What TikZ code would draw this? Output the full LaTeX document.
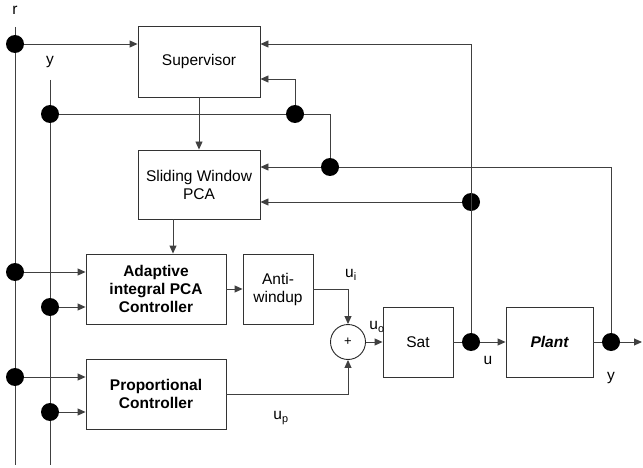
\documentclass[tikz,border=0pt]{standalone}
\usepackage{fontspec}
\setmainfont{Liberation Sans}
\usetikzlibrary{arrows.meta}

\begin{document}
\begin{tikzpicture}[x=1pt,y=-1pt,
  line width=0.9pt,
  wire/.style={draw=black!75},
  arr/.style={wire,-{Triangle[length=8pt,width=7pt]}},
  block/.style={draw=black!80,rectangle,inner sep=0pt,align=center,
    font=\fontsize{15.5}{18}\selectfont},
  dot/.style={circle,fill=black,inner sep=0pt,minimum size=18pt},
  lbl/.style={inner sep=0pt,font=\fontsize{15.5}{18}\selectfont},
  sumnode/.style={circle,draw=black!85,inner sep=0pt,minimum size=35pt,
    font=\fontsize{13}{15}\selectfont}]
\useasboundingbox (0,0) rectangle (643,468);

% signal rails r and y
\coordinate (rtop) at (15,27);
\coordinate (rbot) at (15,465);
\coordinate (ytop) at (50,80);
\coordinate (ybot) at (50,465);
\draw[wire] (rtop) -- (rbot);
\draw[wire] (ytop) -- (ybot);
\node[lbl] (rlabel) at (15,10) {r};
\node[lbl] (ylabel) at (50,62) {y};

% blocks
\node[block,minimum width=122pt,minimum height=71pt] (sup) at (199,61.5) {Supervisor};
\node[block,minimum width=122pt,minimum height=69pt] (swp) at (199,184.5) {Sliding Window\\PCA};
\node[block,minimum width=140pt,minimum height=70pt] (apc) at (156,289) {\bfseries Adaptive\\\bfseries integral PCA\\\bfseries Controller};
\node[block,minimum width=70pt,minimum height=70pt] (aw) at (278,289) {Anti-\\windup};
\node[block,minimum width=140pt,minimum height=70pt] (pc) at (156,394) {\bfseries Proportional\\\bfseries Controller};
\node[sumnode] (sum) at (348,342) {+};
\node[block,minimum width=70pt,minimum height=70pt] (sat) at (418,342) {Sat};
\node[block,minimum width=87pt,minimum height=70pt] (plant) at (549.5,342) {\bfseries\itshape Plant};

% branch points
\node[dot] (r1) at (15,44) {};
\node[dot] (r2) at (15,272) {};
\node[dot] (r3) at (15,377) {};
\node[dot] (y1) at (50,114) {};
\node[dot] (y2) at (50,307) {};
\node[dot] (y3) at (50,412) {};
\node[dot] (fb1) at (295,114) {};
\node[dot] (fb2) at (330,167) {};
\node[dot] (fb3) at (471,202) {};
\node[dot] (udot) at (471,342) {};
\node[dot] (ydot) at (611,342) {};
\coordinate (yout) at (642,342);

% reference and measurement inputs
\draw[arr] (r1) -- (r1 -| sup.west);
\draw[arr] (r2) -- (r2 -| apc.west);
\draw[arr] (y2) -- (y2 -| apc.west);
\draw[arr] (r3) -- (r3 -| pc.west);
\draw[arr] (y3) -- (y3 -| pc.west);

% supervisor and PCA chain
\draw[arr] (sup) -- (swp);
\coordinate (swpout) at ([xshift=-26pt]swp.south);
\draw[arr] (swpout) -- (swpout |- apc.north);
\draw[arr] (apc) -- (aw);

% feedback of y
\draw[wire] (y1) -- (fb1);
\draw[arr] (fb1) |- ([yshift=-17.5pt]sup.east);
\draw[wire] (fb2) |- (fb1);
\draw[arr] (fb2) -- ([yshift=17.5pt]swp.east);
\draw[wire] (ydot) |- (fb2);

% feedback of u
\draw[arr] (udot) |- ([yshift=17.5pt]sup.east);
\draw[arr] (fb3) -- ([yshift=-17.5pt]swp.east);

% control summation
\draw[arr] (aw.east) -| (sum.north);
\draw[arr] (pc.east) -| (sum.south);
\draw[arr] (sum) -- (sat);
\draw[wire] (sat) -- (udot);
\draw[arr] (udot) -- (plant);
\draw[wire] (plant) -- (ydot);
\draw[arr] (ydot) -- (yout);

% signal labels
\node[lbl] (ui) at (351,275) {u\textsubscript{i}};
\node[lbl] (uo) at (377,327) {u\textsubscript{o}};
\node[lbl] (ulabel) at (488,360) {u};
\node[lbl] (yplant) at (611,378) {y};
\node[lbl] (up) at (281,418) {u\textsubscript{p}};
\end{tikzpicture}
\end{document}
